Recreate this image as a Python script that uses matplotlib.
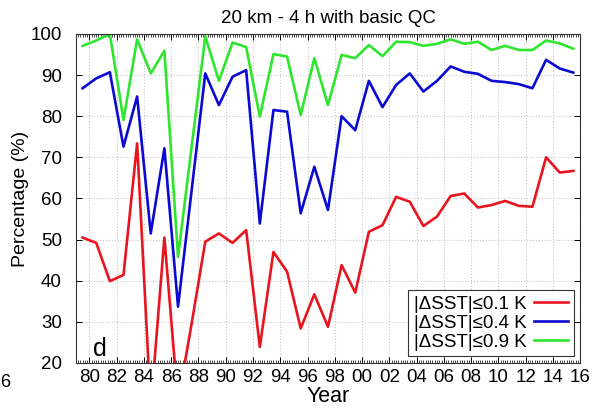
import matplotlib
matplotlib.use('Agg')
import matplotlib.pyplot as plt
from matplotlib.ticker import FixedLocator, MultipleLocator

plt.rcParams['font.family'] = ['Liberation Sans', 'DejaVu Sans']

# mid-year positions of the yearly values
years = [1979.5, 1980.5, 1981.5, 1982.5, 1983.5, 1984.5, 1985.5, 1986.5, 1987.5,
         1988.5, 1989.5, 1990.5, 1991.5, 1992.5, 1993.5, 1994.5, 1995.5, 1996.5,
         1997.5, 1998.5, 1999.5, 2000.5, 2001.5, 2002.5, 2003.5, 2004.5, 2005.5,
         2006.5, 2007.5, 2008.5, 2009.5, 2010.5, 2011.5, 2012.5, 2013.5, 2014.5,
         2015.5]

pct_01 = [50.5, 49.2, 39.9, 41.4, 73.4, 9.0, 50.5, 10.5, 29.6,
          49.5, 51.5, 49.2, 52.3, 23.9, 47.0, 42.2, 28.4, 36.7,
          28.8, 43.8, 37.1, 51.9, 53.5, 60.4, 59.2, 53.3, 55.6,
          60.6, 61.2, 57.8, 58.4, 59.4, 58.2, 58.0, 70.0, 66.3,
          66.7]
pct_04 = [86.8, 89.2, 90.7, 72.6, 84.8, 51.5, 72.2, 33.7, 62.0,
          90.4, 82.7, 89.6, 91.2, 53.9, 81.5, 81.1, 56.4, 67.7,
          57.2, 80.0, 76.6, 88.6, 82.2, 87.6, 90.4, 86.0, 88.6,
          92.1, 90.8, 90.3, 88.6, 88.3, 87.8, 86.8, 93.7, 91.6,
          90.6]
pct_09 = [97.1, 98.4, 100.0, 79.1, 98.7, 90.4, 95.9, 45.8, 72.6,
          99.4, 88.6, 97.9, 96.8, 79.9, 95.1, 94.5, 80.3, 94.1,
          82.7, 94.9, 94.1, 97.3, 94.6, 98.1, 98.0, 97.1, 97.6,
          98.7, 97.6, 98.1, 96.1, 97.1, 96.1, 96.1, 98.4, 97.7,
          96.4]

labels = ['|\u0394SST|\u22640.1 K', '|\u0394SST|\u22640.4 K', '|\u0394SST|\u22640.9 K']
colors = ['#e8141e', '#0a0ad2', '#2ee62e']

tick_years = [1980, 1982, 1984, 1986, 1988, 1990, 1992, 1994, 1996, 1998,
              2000, 2002, 2004, 2006, 2008, 2010, 2012, 2014, 2016]
tick_labels = ['80', '82', '84', '86', '88', '90', '92', '94', '96', '98',
               '00', '02', '04', '06', '08', '10', '12', '14', '16']

fig = plt.figure(figsize=(5.92, 4.09), dpi=100)
ax = fig.add_axes([0.128, 0.1125, 0.852, 0.8045])

for vals, lab, col in zip([pct_01, pct_04, pct_09], labels, colors):
    ax.plot(years, vals, color=col, lw=1.9, label=lab)

ax.set_xlim(1979.0, 2016.0)
ax.set_ylim(20, 100)
ax.xaxis.set_major_locator(FixedLocator(tick_years))
ax.set_xticklabels(tick_labels)
ax.xaxis.set_minor_locator(MultipleLocator(1 / 6))
ax.yaxis.set_major_locator(MultipleLocator(10))

ax.tick_params(axis='both', which='major', direction='in', top=True, right=True,
               length=4, width=0.7, labelsize=13.5)
ax.tick_params(axis='y', which='major', pad=10)
ax.tick_params(axis='x', which='major', pad=4)
ax.tick_params(axis='x', which='minor', direction='in', top=True, length=2, width=0.5)
ax.grid(True, which='major', color='#c8c8c8', ls=':', lw=0.8)
for s in ax.spines.values():
    s.set_linewidth(0.8)
    s.set_color('#333333')

ax.set_title('20 km - 4 h with basic QC', fontsize=13.5, pad=8)
ax.set_xlabel('Year', fontsize=15.5, labelpad=0.5)
ax.set_ylabel('Percentage (%)', fontsize=14, labelpad=1)
ax.text(0.035, 0.022, 'd', transform=ax.transAxes, fontsize=18)
fig.text(0.0, 0.055, '6', fontsize=13)

leg = ax.legend(loc='lower right', fontsize=13.5, markerfirst=False, fancybox=False,
                framealpha=1, edgecolor='#333333', handlelength=1.8,
                borderaxespad=0.35, labelspacing=0.1, borderpad=0.3, handletextpad=0.4)
leg.get_frame().set_linewidth(0.8)

fig.savefig('out.png', dpi=100)
